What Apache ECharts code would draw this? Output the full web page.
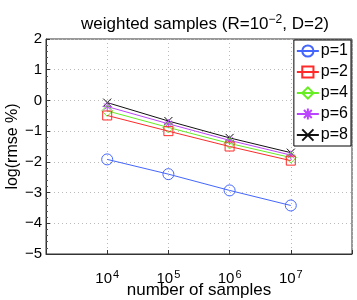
<!DOCTYPE html>
<html><head><meta charset="utf-8">
<script src="https://cdn.jsdelivr.net/npm/echarts@6/dist/echarts.min.js"></script>
<style>html,body{margin:0;padding:0;background:#fff}#c{width:357px;height:300px}</style>
</head><body><div id="c"></div>
<script>
const samples = [1e4, 1e5, 1e6, 1e7];
const seriesNames = ['p=1', 'p=2', 'p=4', 'p=6', 'p=8'];
const p1 = [-1.92, -2.40, -2.93, -3.42];
const p2 = [-0.49, -1.00, -1.50, -1.96];
const p4 = [-0.34, -0.88, -1.40, -1.86];
const p6 = [-0.20, -0.76, -1.30, -1.78];
const p8 = [-0.07, -0.67, -1.22, -1.70];
const yTicks = [-5, -4, -3, -2, -1, 0, 1, 2];

const font = 'Liberation Sans, Arial, Helvetica, sans-serif';
const colors = ['#4466ff', '#ff2a2a', '#66ee22', '#bb44ff', '#111111'];
const symbols = ['circle', 'rect', 'diamond',
  'path://M5,0L5,10M0,5L10,5M1.5,1.5L8.5,8.5M8.5,1.5L1.5,8.5',
  'path://M0,0L10,10M10,0L0,10'];
const sizes = [11, 9, 11, 9, 8];
const values = [p1, p2, p4, p6, p8];

const chart = echarts.init(document.getElementById('c'));
chart.setOption({
  animation: false,
  title: {
    text: '{t|weighted samples (R=10}{s|−2}{t|, D=2)}',
    left: 200, top: 9, textAlign: 'center',
    textStyle: { fontWeight: 'normal', rich: {
      t: { fontFamily: font, fontSize: 17, color: '#000', fontWeight: 'normal' },
      s: { fontFamily: font, fontSize: 12, color: '#000', fontWeight: 'normal', padding: [0, 0, 9, 0] }
    } }
  },
  grid: { left: 46, right: 5, top: 39, bottom: 46, show: true, borderColor: '#333', borderWidth: 1, backgroundColor: '#fff', containLabel: false, outerBoundsMode: 'none' },
  legend: {
    orient: 'vertical', right: 6, top: 40,
    data: seriesNames,
    backgroundColor: '#fff', borderColor: '#000', borderWidth: 1,
    padding: [3, 3, 3, 2], itemGap: 5, itemWidth: 22, itemHeight: 14,
    textStyle: { fontFamily: font, fontSize: 16, lineHeight: 16, color: '#000', padding: [0, 0, 0, -3] }
  },
  xAxis: {
    type: 'log', logBase: 10, min: 1e3, max: 1e8, interval: 1,
    name: 'number of samples', nameLocation: 'middle', nameGap: 28, nameMoveOverlap: false,
    nameTextStyle: { fontFamily: font, fontSize: 17, color: '#000' },
    axisLine: { onZero: false, lineStyle: { color: '#333' } },
    axisTick: { inside: true, length: 4, lineStyle: { color: '#333' } },
    splitLine: { show: true, lineStyle: { color: '#bbb', type: [1, 3] } },
    axisLabel: {
      margin: 15,
      formatter: v => {
        const e = Math.round(Math.log10(v));
        if (e < 4 || e > 7) return '';
        return '{b|10}{s|' + e + '}';
      },
      rich: {
        b: { fontFamily: font, fontSize: 15, color: '#000' },
        s: { fontFamily: font, fontSize: 11, color: '#000', padding: [0, 0, 9, 1] }
      }
    }
  },
  yAxis: {
    type: 'value', min: yTicks[0], max: yTicks[yTicks.length - 1], interval: 1,
    name: 'log(rmse %)', nameLocation: 'middle', nameGap: 25, nameMoveOverlap: false,
    nameTextStyle: { fontFamily: font, fontSize: 16, color: '#000' },
    axisLine: { show: true, onZero: false, lineStyle: { color: '#333' } },
    axisTick: { show: true, inside: true, length: 4, lineStyle: { color: '#333' } },
    minorTick: { show: true, splitNumber: 5, length: 2, lineStyle: { color: '#555' } },
    splitLine: { show: true, lineStyle: { color: '#bbb', type: [1, 3] } },
    axisLabel: {
      margin: 4, fontFamily: font, fontSize: 15, color: '#000',
      formatter: v => String(v).replace('-', '−')
    }
  },
  series: seriesNames.map((n, i) => ({
    name: n, type: 'line',
    data: samples.map((s, j) => [s, values[i][j]]),
    symbol: symbols[i], symbolSize: sizes[i], showAllSymbol: true,
    color: colors[i],
    lineStyle: { width: 1, color: colors[i] },
    itemStyle: { color: 'rgba(255,255,255,0)', borderColor: colors[i], borderWidth: 1 },
    z: 10 - i
  }))
});
</script></body></html>
